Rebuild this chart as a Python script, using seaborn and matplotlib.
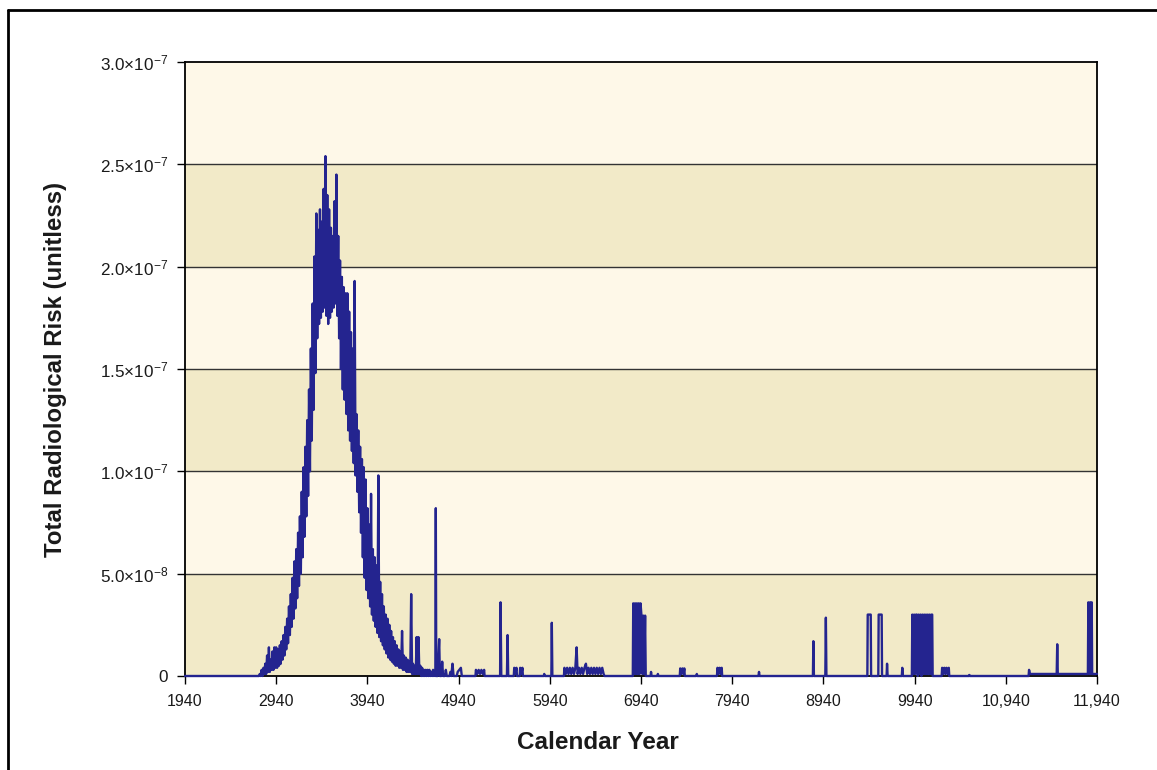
import numpy as np
import pandas as pd
import matplotlib
matplotlib.use("Agg")
import matplotlib.pyplot as plt
import seaborn as sns
from matplotlib.lines import Line2D

# ---------------- data (risk values in units of 1e-9) ----------------
# main release peak: dense record alternating between upper and lower envelope
peak_years = [1940, 2740, 2750,
              2760, 2770, 2780, 2790, 2800, 2810, 2820, 2830, 2840, 2850,
              2860, 2870, 2880, 2890, 2900, 2910, 2920, 2930, 2940, 2950,
              2960, 2970, 2980, 2990, 3000, 3010, 3020, 3030, 3040, 3050,
              3060, 3070, 3080, 3090, 3100, 3110, 3120, 3130, 3140, 3150,
              3160, 3170, 3180, 3190, 3200, 3210, 3220, 3230, 3240, 3250,
              3260, 3270, 3280, 3290, 3300, 3310, 3320, 3330, 3340, 3350,
              3360, 3370, 3380, 3390, 3400, 3410, 3420, 3430, 3440, 3450,
              3460, 3470, 3480, 3490, 3500, 3510, 3520, 3530, 3540, 3550,
              3560, 3570, 3580, 3590, 3600, 3610, 3620, 3630, 3640, 3650,
              3660, 3670, 3680, 3690, 3700, 3710, 3720, 3730, 3740, 3750,
              3760, 3770, 3780, 3790, 3800, 3810, 3820, 3830, 3840, 3850,
              3860, 3870, 3880, 3890, 3900, 3910, 3920, 3930, 3940, 3950,
              3960, 3970, 3980, 3990, 4000, 4010, 4020, 4030, 4040, 4050,
              4060, 4070, 4080, 4090, 4100, 4110, 4120, 4130, 4140, 4150,
              4160, 4170, 4180, 4190, 4200, 4210, 4220, 4230, 4240, 4250,
              4260, 4270, 4280, 4290, 4300, 4310, 4320, 4330, 4340, 4350,
              4360, 4370, 4380, 4390, 4400, 4410, 4420, 4430, 4440, 4450,
              4460, 4470, 4480, 4490, 4500, 4510, 4520, 4530, 4540, 4550,
              4560, 4570, 4580, 4590, 4600, 4610, 4620, 4630, 4640, 4650,
              4660, 4670, 4680, 4685,
              4690, 4695, 4710, 4727, 4735, 4750, 4760, 4770, 4790, 4800,
              4810, 4840, 4850, 4860, 4873, 4885, 4920, 4930, 4965, 4975]
peak_vals = [0, 0, 0,
             1, 0, 3, 0, 4, 1, 6, 1, 10, 2,
             14, 2, 8, 3, 12, 3, 14, 4, 14, 4,
             13, 5, 15, 6, 17, 8, 20, 10, 24, 13,
             28, 16, 34, 20, 40, 24, 48, 28, 56, 33,
             62, 38, 70, 44, 78, 50, 90, 58, 102, 68,
             112, 78, 125, 88, 140, 100, 160, 115, 182, 130,
             205, 148, 226, 165, 218, 172, 228, 175, 222, 178,
             238, 180, 254, 176, 235, 172, 228, 175, 219, 178,
             215, 180, 232, 182, 245, 176, 215, 165, 203, 150,
             195, 140, 190, 135, 187, 128, 187, 120, 178, 115,
             168, 110, 160, 104, 193, 98, 128, 90, 120, 80,
             112, 70, 106, 58, 102, 48, 96, 42, 82, 38,
             74, 34, 89, 30, 62, 27, 58, 24, 54, 21,
             98, 19, 46, 17, 40, 15, 34, 13, 30, 11,
             28, 9, 25, 8, 22, 7, 19, 6, 17, 5,
             15, 5, 13, 4, 12, 4, 22, 3, 10, 3,
             9, 2, 8, 2, 7, 2, 40, 1, 6, 1,
             5, 1, 19, 1, 19, 1, 5, 0, 4, 0,
             3, 0, 3, 0, 3, 0, 3, 0, 2, 0,
             3, 0, 2, 0,
             82, 0, 0, 18, 0, 0, 7, 0, 0, 3,
             0, 0, 2, 0, 6, 0, 0, 2, 4, 0]

# sparse later arrivals
tail_years = [4990, 5125, 5130, 5145, 5160, 5175, 5190, 5205, 5220, 5225,
              5395, 5400, 5408, 5470, 5477, 5484,
              5545, 5550, 5562, 5575, 5580, 5610, 5615, 5628, 5640, 5645,
              5874, 5879, 5885, 5957, 5962, 5968,
              6095, 6100, 6115, 6130, 6145, 6160, 6175, 6190, 6205, 6220, 6234,
              6245, 6260, 6275, 6290, 6305, 6320, 6336, 6350, 6365, 6380,
              6395, 6410, 6425, 6440, 6455, 6470, 6485, 6500, 6515, 6530, 6540,
              6850, 6855, 6865, 6875, 6885, 6895, 6905, 6915, 6925, 6935, 6945,
              6955, 6965, 6975, 6985, 6992,
              7045, 7050, 7056, 7120, 7125, 7131,
              7365, 7370, 7382, 7394, 7406, 7415, 7420,
              7545, 7552, 7558,
              7773, 7778, 7790, 7802, 7814, 7825, 7830,
              8228, 8234, 8240,
              8825, 8830, 8836, 8961, 8967, 8973,
              9422, 9426, 9459, 9463, 9542, 9546, 9579, 9583,
              9633, 9638, 9644, 9800, 9805, 9811,
              9910, 9915, 9925, 9935, 9945, 9955, 9965, 9975, 9985, 9995,
              10005, 10015, 10025, 10035, 10045, 10055, 10065, 10075, 10085, 10095,
              10105, 10115, 10125, 10133, 10138,
              10237, 10242, 10254, 10266, 10278, 10290, 10302, 10315, 10320,
              10535, 10540, 10546,
              11190, 11195, 11205, 11498, 11504, 11510,
              11840, 11845, 11855, 11865, 11875, 11882, 11887, 11940]
tail_vals = [0, 0, 3, 1, 3, 1, 3, 1, 3, 0,
             0, 36, 0, 0, 20, 0,
             0, 4, 1, 4, 0, 0, 4, 1, 4, 0,
             0, 1, 0, 0, 26, 0,
             0, 4, 1, 4, 1, 4, 1, 4, 1, 4, 14,
             1, 4, 1, 4, 1, 4, 6, 1, 4, 1,
             4, 1, 4, 1, 4, 1, 4, 1, 4, 1, 0,
             0, 35.5, 1, 35.5, 1, 35.5, 1, 35.5, 1, 35.5, 29.5,
             1, 29.5, 1, 29.5, 0,
             0, 2, 0, 0, 1, 0,
             0, 3.7, 1, 3.7, 1, 3.7, 0,
             0, 1, 0,
             0, 4, 1, 4, 1, 4, 0,
             0, 2, 0,
             0, 17, 0, 0, 28.5, 0,
             0, 30, 30, 0, 0, 30, 30, 0,
             0, 6, 0, 0, 4, 0,
             0, 30, 1, 30, 1, 30, 30, 0, 30, 1,
             30, 0, 30, 1, 30, 1, 30, 1, 30, 1,
             30, 1, 30, 30, 0,
             0, 4, 1, 4, 1, 4, 1, 4, 0,
             0, 0.5, 0,
             0, 3, 1, 1, 15.5, 1,
             1, 36, 1, 36, 1, 36, 1, 1]

assert len(peak_years) == len(peak_vals)
assert len(tail_years) == len(tail_vals)

x_ticks = [1940, 2940, 3940, 4940, 5940, 6940, 7940, 8940, 9940, 10940, 11940]
x_tick_labels = ["1940", "2940", "3940", "4940", "5940", "6940", "7940",
                 "8940", "9940", "10,940", "11,940"]
y_ticks = [0, 5e-8, 1e-7, 1.5e-7, 2e-7, 2.5e-7, 3e-7]
y_tick_labels = ["0",
                 r"$\mathregular{5.0{\times}10^{-8}}$",
                 r"$\mathregular{1.0{\times}10^{-7}}$",
                 r"$\mathregular{1.5{\times}10^{-7}}$",
                 r"$\mathregular{2.0{\times}10^{-7}}$",
                 r"$\mathregular{2.5{\times}10^{-7}}$",
                 r"$\mathregular{3.0{\times}10^{-7}}$"]

df = pd.DataFrame({
    "year": peak_years + tail_years,
    "risk": [v * 1e-9 for v in peak_vals + tail_vals],
})

# ---------------- style ----------------
sns.set_theme(style="white")
plt.rcParams["font.family"] = ["Liberation Sans", "DejaVu Sans"]
plt.rcParams["mathtext.fontset"] = "custom"
plt.rcParams["mathtext.rm"] = "Liberation Sans"
plt.rcParams["mathtext.it"] = "Liberation Sans:italic"
plt.rcParams["mathtext.bf"] = "Liberation Sans:bold"

line_color = "#24248F"
band_dark = "#F2EAC8"
band_light = "#FEF8E8"

fig = plt.figure(figsize=(11.57, 7.70), dpi=100)
fig.patch.set_facecolor("white")
ax = fig.add_axes([185 / 1157, 94 / 770, 912 / 1157, 614 / 770])

for i in range(len(y_ticks) - 1):
    ax.axhspan(y_ticks[i], y_ticks[i + 1],
               color=band_dark if i % 2 == 0 else band_light, lw=0, zorder=0)
for yv in y_ticks[1:-1]:
    ax.axhline(yv, color="#333333", lw=1.0, zorder=1)

sns.lineplot(data=df, x="year", y="risk", ax=ax, color=line_color,
             linewidth=1.7, estimator=None, sort=False, zorder=3)
ax.lines[-1].set_clip_on(False)
ax.lines[-1].set_zorder(4)

ax.set_xlim(1940, 11940)
ax.set_ylim(0, 3e-7)
ax.set_xticks(x_ticks)
ax.set_xticklabels(x_tick_labels)
ax.set_yticks(y_ticks)
ax.set_yticklabels(y_tick_labels)

ax.tick_params(axis="both", which="major", direction="out", length=6, width=1.0,
               color="black", labelcolor="#1a1a1a", bottom=True, left=True)
ax.tick_params(axis="x", pad=7, labelsize=11.5)
ax.tick_params(axis="y", pad=6, labelsize=12.3)

for sp in ax.spines.values():
    sp.set_visible(True)
    sp.set_color("black")
    sp.set_linewidth(1.3)

ax.set_xlabel("Calendar Year", fontsize=17.5, fontweight="bold", color="#1a1a1a")
ax.set_ylabel("Total Radiological Risk (unitless)", fontsize=17.3, fontweight="bold",
              color="#1a1a1a")
ax.xaxis.set_label_coords(0.453, -0.089)
ax.yaxis.label.set_va("center")
ax.yaxis.set_label_coords(-0.1425, 0.5)

# outer frame (top and left lines)
fig.add_artist(Line2D([8 / 1157, 1.0], [1 - 10 / 770, 1 - 10 / 770],
                      transform=fig.transFigure, color="black", lw=2))
fig.add_artist(Line2D([8 / 1157, 8 / 1157], [0, 1 - 10 / 770],
                      transform=fig.transFigure, color="black", lw=2))

fig.savefig("out.png", dpi=100)
